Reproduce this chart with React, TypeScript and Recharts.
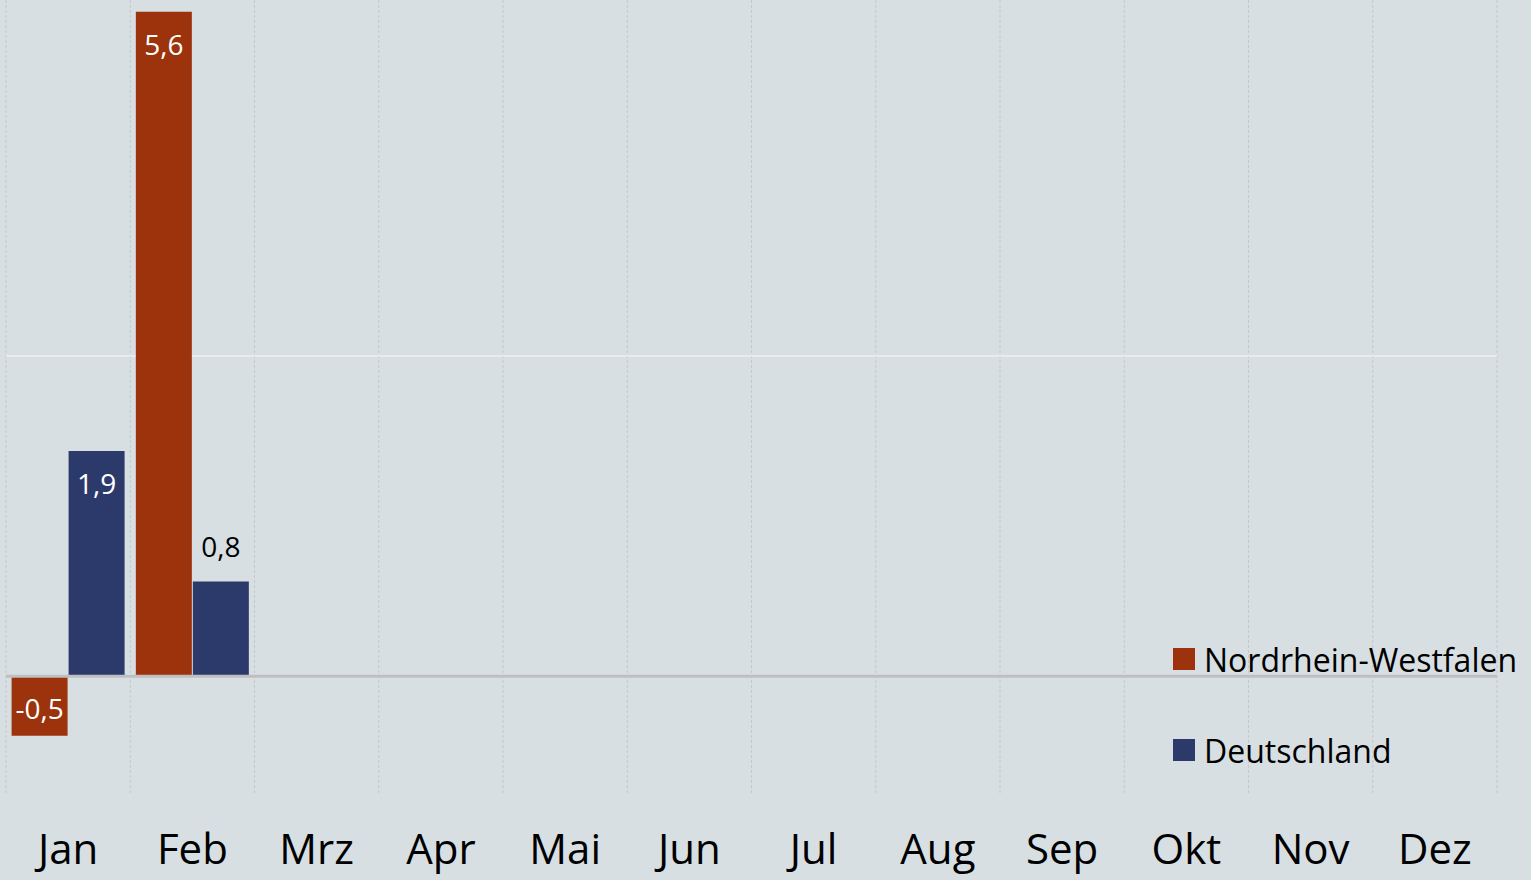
import { BarChart, Bar, XAxis, YAxis, CartesianGrid, ReferenceLine, LabelList } from "recharts";

const months = ["Jan", "Feb", "Mrz", "Apr", "Mai", "Jun", "Jul", "Aug", "Sep", "Okt", "Nov", "Dez"];
const nrw: (number | null)[] = [-0.5, 5.6, null, null, null, null, null, null, null, null, null, null];
const deutschland: (number | null)[] = [1.9, 0.8, null, null, null, null, null, null, null, null, null, null];
const seriesNames = ["Nordrhein-Westfalen", "Deutschland"];
const colors = ["#9c330c", "#2b3a6b"];
const yDomain = [-1, 5.7];
const gridValues = [2.7];

const data = months.map((m, i) => ({ month: m, nrw: nrw[i], de: deutschland[i] }));

const FONT = "'Open Sans', sans-serif";
const fmt = (v: number) => String(v).replace(".", ",");

function BarLabel(props: any) {
  const { x, y, width, height, value } = props;
  if (value === null || value === undefined) return null;
  const cx = x + width / 2;
  // small positive values sit above the bar, the rest inside
  if (value > 0 && value < 1) {
    return (
      <text x={cx} y={y - 35} textAnchor="middle" dominantBaseline="central" fontSize={28} fontFamily={FONT} fill="#000">
        {fmt(value)}
      </text>
    );
  }
  const top = height >= 0 ? y : y + height;
  return (
    <text x={cx} y={top + 32} textAnchor="middle" dominantBaseline="central" fontSize={28} fontFamily={FONT} fill="#fff">
      {fmt(value)}
    </text>
  );
}

function MonthTick(props: any) {
  const { x, y, payload } = props;
  return (
    <text x={x} y={y + 69} textAnchor="middle" fontSize={42} fontFamily={FONT} fill="#000">
      {payload.value}
    </text>
  );
}

function LegendBox() {
  return (
    <div style={{ position: "absolute", left: 1173, top: 638, fontFamily: FONT }}>
      {seriesNames.map((name, i) => (
        <div key={name} style={{ display: "flex", alignItems: "center", height: 42, marginBottom: 49 }}>
          <div style={{ width: 22, height: 22, background: colors[i], marginRight: 9 }} />
          <span style={{ fontSize: 32, color: "#000", whiteSpace: "nowrap" }}>{name}</span>
        </div>
      ))}
    </div>
  );
}

// horizontal gridline positions from the value axis
const hGrid = ({ yAxis, offset }: any) =>
  gridValues.map((v) =>
    yAxis && typeof yAxis.scale === "function"
      ? yAxis.scale(v)
      : offset.top + (offset.height * (yDomain[1] - v)) / (yDomain[1] - yDomain[0])
  );

export default function App() {
  return (
    <div style={{ width: 1531, height: 880, background: "#d7dfe3", position: "relative", overflow: "hidden" }}>
      <style>{"body{margin:0}"}</style>
      <BarChart
        width={1531}
        height={880}
        data={data}
        margin={{ top: 0, right: 34, left: 6, bottom: 0 }}
        barCategoryGap="4.5%"
        barGap={1}
      >
        <CartesianGrid
          horizontal={false}
          stroke="#c3c8cc"
          strokeDasharray="3 2"
          verticalCoordinatesGenerator={({ offset }: any) =>
            months.map((_, i) => offset.left + (i * offset.width) / months.length).concat(offset.left + offset.width)
          }
        />
        <CartesianGrid vertical={false} stroke="#eef1f3" strokeWidth={1.5} horizontalCoordinatesGenerator={hGrid} />
        <XAxis
          dataKey="month"
          axisLine={false}
          tickLine={false}
          tickSize={0}
          tickMargin={0}
          height={85}
          interval={0}
          tick={<MonthTick />}
        />
        <YAxis hide domain={yDomain} ticks={gridValues} width={0} />
        <Bar dataKey="nrw" name={seriesNames[0]} fill={colors[0]} isAnimationActive={false}>
          <LabelList dataKey="nrw" content={<BarLabel />} />
        </Bar>
        <Bar dataKey="de" name={seriesNames[1]} fill={colors[1]} isAnimationActive={false}>
          <LabelList dataKey="de" content={<BarLabel />} />
        </Bar>
        <ReferenceLine y={0} stroke="#bfbfbf" strokeWidth={3} />
      </BarChart>
      <LegendBox />
    </div>
  );
}
